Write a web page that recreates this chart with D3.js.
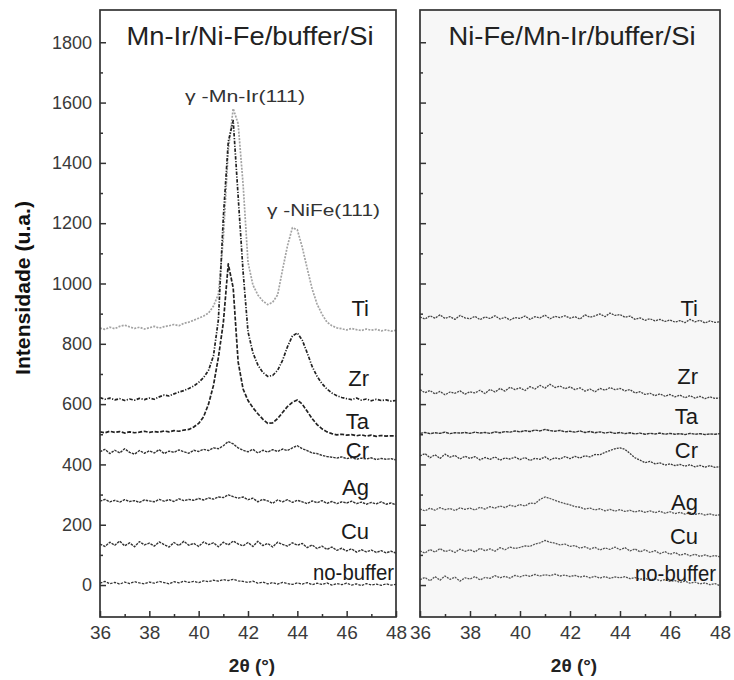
<!DOCTYPE html>
<html>
<head>
<meta charset="utf-8">
<script src="https://cdnjs.cloudflare.com/ajax/libs/d3/7.8.5/d3.min.js"></script>
<style>
    body { margin: 0; background: #fff; }
    svg { display: block; font-family: "Liberation Sans", Arial, sans-serif; }
</style>
</head>
<body>
<div id="chart"></div>
<script>
// 2theta sampling (deg)
var twoTheta = [
    36.0, 36.2, 36.4, 36.6, 36.8, 37.0, 37.2, 37.4, 37.6, 37.8,
    38.0, 38.2, 38.4, 38.6, 38.8, 39.0, 39.2, 39.4, 39.6, 39.8,
    40.0, 40.2, 40.4, 40.6, 40.8, 41.0, 41.2, 41.4, 41.6, 41.8,
    42.0, 42.2, 42.4, 42.6, 42.8, 43.0, 43.2, 43.4, 43.6, 43.8,
    44.0, 44.2, 44.4, 44.6, 44.8, 45.0, 45.2, 45.4, 45.6, 45.8,
    46.0, 46.2, 46.4, 46.6, 46.8, 47.0, 47.2, 47.4, 47.6, 47.8,
    48.0
];

var buffers = ["Ti", "Zr", "Ta", "Cr", "Ag", "Cu", "no-buffer"];
var panelTitles = ["Mn-Ir/Ni-Fe/buffer/Si", "Ni-Fe/Mn-Ir/buffer/Si"];
var xTicks = [36, 38, 40, 42, 44, 46, 48];
var xMinorTicks = [37, 39, 41, 43, 45, 47];
var yTicks = [0, 200, 400, 600, 800, 1000, 1200, 1400, 1600, 1800];
var yMinorTicks = [100, 300, 500, 700, 900, 1100, 1300, 1500, 1700];

// ---- Mn-Ir/Ni-Fe/buffer/Si ----
var mnirTi = [
    852, 848, 855, 850, 858, 862, 856, 851, 855, 849,
    853, 858, 852, 857, 860, 864, 860, 868, 872, 878,
    885, 892, 902, 925, 965, 1150, 1440, 1580, 1530, 1330,
    1070, 995, 962, 942, 930, 938, 962, 1045, 1125, 1185,
    1178, 1120, 1050, 982, 932, 898, 872, 860, 853, 850,
    846, 851, 847, 844, 849, 845, 848, 843, 846, 842,
    845
];
var mnirZr = [
    622, 616, 620, 614, 618, 612, 617, 613, 619, 615,
    620, 616, 624, 630, 627, 634, 640, 645, 652, 660,
    672, 688, 712, 760, 880, 1220, 1470, 1540, 1290, 1040,
    840, 770, 730, 705, 692, 695, 712, 745, 790, 826,
    836, 812, 770, 725, 692, 668, 650, 637, 628, 622,
    618, 615, 620, 613, 617, 611, 616, 612, 614, 610,
    612
];
var mnirTa = [
    508, 505, 510, 506, 509, 504, 508, 505, 507, 510,
    506, 509, 507, 511, 508, 512, 510, 514, 516, 524,
    536, 558, 600, 662, 755, 870, 1065, 985, 740, 650,
    612, 588, 568, 550, 536, 538, 552, 572, 592, 606,
    614, 600, 576, 552, 532, 518, 508, 502, 498, 500,
    497, 499, 495, 498, 494, 497, 493, 496, 494, 495,
    494
];
var mnirCr = [
    442, 450, 436, 447, 438, 452, 440, 434, 446, 437,
    445, 438, 449, 436, 444, 440, 448, 442, 437, 447,
    443, 450, 446, 455, 452, 462, 476, 468, 455, 447,
    442, 450, 438, 447, 441, 449, 443, 451, 446, 455,
    462, 452, 446, 438, 436, 430, 426, 424, 421, 425,
    419, 423, 417, 421, 418, 422, 416, 420, 417, 419,
    415
];
var mnirAg = [
    278, 284, 276, 281, 275, 283, 277, 280, 274, 282,
    279, 276, 284, 278, 283, 277, 286, 280, 284, 281,
    287, 282, 289, 285, 292, 290, 299, 293, 288, 292,
    283, 288, 276, 284, 279, 271, 282, 276, 283, 274,
    281, 276, 270, 279, 273, 280, 271, 277, 270, 276,
    272, 278, 270, 275, 268, 274, 269, 276, 268, 272,
    266
];
var mnirCu = [
    136, 128, 142, 132, 146, 130, 140, 127, 144, 133,
    139, 129, 143, 134, 126, 141, 131, 145, 132, 138,
    128, 143, 134, 140, 127, 142, 133, 146, 136, 130,
    141, 128, 145, 131, 138, 126, 142, 135, 129, 140,
    132, 138, 124, 133, 121, 129, 118, 126, 115, 122,
    113, 120, 109, 117, 110, 116, 108, 114, 107, 112,
    106
];
var mnirNoBuffer = [
    6, 12, 4, 9, 3, 10, 5, 11, 7, 4,
    10, 6, 12, 8, 4, 11, 7, 13, 9, 12,
    8, 14, 11, 16, 13, 18, 15, 19, 14, 12,
    9, 13, 6, 10, 4, 8, 3, 9, 5, 2,
    7, 3, 8, 1, 6, 2, 7, 0, 5, 1,
    6, 0, 4, -2, 5, 0, 3, -1, 4, 0,
    2
];

// ---- Ni-Fe/Mn-Ir/buffer/Si ----
var nifeTi = [
    889, 882, 893, 885, 896, 884, 890, 881, 894, 886,
    883, 891, 880, 889, 884, 893, 882, 888, 879, 887,
    884, 892, 881, 890, 886, 895, 883, 891, 887, 893,
    885, 890, 882, 896, 888, 893, 899, 890, 902, 894,
    897, 888, 892, 881, 886, 878, 883, 876, 881, 874,
    879, 872, 877, 870, 881, 873, 878, 869, 876, 871,
    873
];
var nifeZr = [
    648, 638, 645, 634, 642, 631, 640, 636, 644, 633,
    641, 637, 646, 635, 649, 640, 652, 643, 656, 648,
    654, 645, 658, 650, 662, 653, 666, 655, 660, 651,
    657, 648, 654, 643, 650, 641, 652, 646, 655, 648,
    652, 644, 648, 637, 641, 632, 636, 628, 634, 626,
    632, 624, 630, 621, 628, 620, 626, 618, 624, 619,
    621
];
var nifeTa = [
    503, 506, 502, 505, 503, 507, 502, 505, 504, 506,
    503, 507, 504, 506, 503, 508, 505, 509, 507, 511,
    508, 512, 509, 514, 511, 516, 512, 510, 513, 508,
    510, 507, 511, 506, 509, 505, 508, 504, 507, 503,
    506, 502, 505, 501, 504, 500, 503, 501, 504, 500,
    503, 500, 502, 499, 503, 500, 502, 499, 501, 500,
    502
];
var nifeCr = [
    428, 436, 422, 432, 420, 434, 424, 430, 418, 427,
    420, 426, 415, 423, 417, 425, 414, 421, 418, 424,
    416, 423, 413, 420, 417, 425, 415, 422, 418, 426,
    419, 427, 421, 429, 425, 433, 432, 440, 446, 452,
    455, 450, 436, 422, 414, 406, 410, 402, 405, 398,
    402, 396, 400, 394, 399, 392, 397, 391, 396, 390,
    393
];
var nifeAg = [
    252, 246, 255, 248, 257, 250, 254, 247, 256, 251,
    255, 249, 258, 252, 260, 255, 262, 257, 265, 260,
    267, 262, 272, 270, 284, 292, 287, 281, 275, 270,
    266, 260, 258, 252, 255, 249, 253, 246, 251, 245,
    250, 244, 248, 242, 247, 241, 246, 240, 245, 238,
    243, 237, 241, 235, 240, 234, 238, 232, 236, 231,
    233
];
var nifeCu = [
    113, 106, 118, 109, 121, 111, 116, 108, 119, 112,
    117, 110, 122, 114, 120, 112, 124, 117, 126, 121,
    125, 130, 128, 136, 140, 148, 142, 139, 133, 136,
    128, 131, 122, 127, 119, 125, 116, 123, 118, 126,
    117, 124, 113, 120, 110, 117, 108, 114, 104, 111,
    102, 108, 99, 104, 97, 102, 95, 100, 94, 98,
    93
];
var nifeNoBuffer = [
    18, 25, 14, 28, 16, 30, 19, 26, 13, 24,
    20, 28, 17, 25, 22, 31, 24, 29, 23, 32,
    27, 33, 29, 35, 30, 34, 31, 36, 30, 33,
    28, 32, 26, 30, 24, 29, 23, 28, 22, 27,
    24, 28, 21, 25, 19, 23, 16, 21, 14, 18,
    12, 15, 9, 13, 6, 10, 4, 7, 1, 5,
    -2
];


var width = 734,
    height = 680,
    plotTop = 10,
    plotBottom = 617;

var svg = d3.select("#chart").append("svg")
    .attr("width", width)
    .attr("height", height);

var y = d3.scaleLinear().domain([-106, 1907]).range([plotBottom, plotTop]);

// layout of each panel (pixels), label baselines per buffer
var panels = [
    {
        title: panelTitles[0],
        left: 100, right: 396, bg: "#ffffff",
        series: [mnirTi, mnirZr, mnirTa, mnirCr, mnirAg, mnirCu, mnirNoBuffer],
        labelY: [316, 386, 429, 458, 495, 539, 580],
        labelX: 369, noBufferX: 394,
        showLabels: true,
        styles: [
            { stroke: "#a3a3a3", dash: "2,1.3", w: 1.7 },
            { stroke: "#222", dash: "3.5,1.5,1.2,1.5", w: 1.7 },
            { stroke: "#222", dash: "4,1.6", w: 1.7 },
            { stroke: "#333", dash: "2.5,1", w: 1.4 },
            { stroke: "#333", dash: "2.5,1", w: 1.4 },
            { stroke: "#333", dash: "2.5,1", w: 1.4 },
            { stroke: "#333", dash: "2.5,1.2", w: 1.3 }
        ]
    },
    {
        title: panelTitles[1],
        left: 420, right: 720, bg: "#f7f7f7",
        series: [nifeTi, nifeZr, nifeTa, nifeCr, nifeAg, nifeCu, nifeNoBuffer],
        labelY: [316, 384, 424, 458, 510, 544, 581],
        labelX: 698, noBufferX: 716,
        showLabels: false,
        styles: [
            { stroke: "#444", dash: "2,1", w: 1.3 },
            { stroke: "#444", dash: "2,1", w: 1.3 },
            { stroke: "#333", dash: "3,0.8", w: 1.4 },
            { stroke: "#3a3a3a", dash: "2,1", w: 1.3 },
            { stroke: "#555", dash: "2,1", w: 1.3 },
            { stroke: "#555", dash: "2,1", w: 1.3 },
            { stroke: "#555", dash: "2,1", w: 1.3 }
        ]
    }
];

panels.forEach(function (p, pi) {
    drawPanel(p, pi);
});

// y axis label
svg.append("text")
    .attr("transform", "translate(30,288) rotate(-90)")
    .attr("text-anchor", "middle")
    .style("font-size", "20px")
    .style("font-weight", "bold")
    .attr("fill", "#111")
    .attr("textLength", 174)
    .attr("lengthAdjust", "spacingAndGlyphs")
    .text("Intensidade (u.a.)");

// peak annotations on left panel
svg.append("text")
    .attr("x", 185).attr("y", 102)
    .style("font-size", "17px")
    .attr("fill", "#333")
    .attr("textLength", 120)
    .attr("lengthAdjust", "spacingAndGlyphs")
    .text("\u03b3 -Mn-Ir(111)");

svg.append("text")
    .attr("x", 267).attr("y", 216)
    .style("font-size", "17px")
    .attr("fill", "#333")
    .attr("textLength", 113)
    .attr("lengthAdjust", "spacingAndGlyphs")
    .text("\u03b3 -NiFe(111)");


function drawPanel(p, pi) {

    var x = d3.scaleLinear().domain([36, 48]).range([p.left, p.right]);

    var g = svg.append("g");

    g.append("rect")
        .attr("x", p.left)
        .attr("y", plotTop)
        .attr("width", p.right - p.left)
        .attr("height", plotBottom - plotTop)
        .attr("fill", p.bg);

    g.append("clipPath")
        .attr("id", "clip" + pi)
        .append("rect")
        .attr("x", p.left)
        .attr("y", plotTop)
        .attr("width", p.right - p.left)
        .attr("height", plotBottom - plotTop);

    var line = d3.line()
        .x(function (d, i) { return x(twoTheta[i]); })
        .y(function (d) { return y(d); });

    var curves = g.append("g").attr("clip-path", "url(#clip" + pi + ")");

    p.series.forEach(function (s, i) {
        curves.append("path")
            .datum(s)
            .attr("fill", "none")
            .attr("stroke", p.styles[i].stroke)
            .attr("stroke-width", p.styles[i].w)
            .attr("stroke-dasharray", p.styles[i].dash)
            .attr("stroke-linejoin", "round")
            .attr("d", line);
    });

    // buffer labels
    buffers.forEach(function (b, i) {
        var t = g.append("text")
            .attr("x", b === "no-buffer" ? p.noBufferX : p.labelX)
            .attr("y", p.labelY[i])
            .attr("text-anchor", "end")
            .style("font-size", "22px")
            .attr("fill", "#1a1a1a")
            .text(b);
        if (b === "no-buffer") {
            t.attr("textLength", 81).attr("lengthAdjust", "spacingAndGlyphs");
        }
    });

    // title
    g.append("text")
        .attr("x", (p.left + p.right) / 2 + 2)
        .attr("y", 45)
        .attr("text-anchor", "middle")
        .style("font-size", "25px")
        .attr("fill", "#222")
        .attr("textLength", 247)
        .attr("lengthAdjust", "spacingAndGlyphs")
        .text(p.title);

    // y axis (inward ticks)
    var yAxis = d3.axisLeft(y)
        .tickValues(yTicks)
        .tickSize(-6)
        .tickPadding(8)
        .tickFormat(p.showLabels ? d3.format("d") : "");

    var ya = g.append("g")
        .attr("transform", "translate(" + p.left + ",0)")
        .call(yAxis);

    var yaMinor = g.append("g")
        .attr("transform", "translate(" + p.left + ",0)")
        .call(d3.axisLeft(y).tickValues(yMinorTicks).tickSize(-3).tickFormat(""));

    // x axis (inward ticks)
    var xa = g.append("g")
        .attr("transform", "translate(0," + plotBottom + ")")
        .call(d3.axisBottom(x).tickValues(xTicks).tickSize(-6).tickPadding(9));

    var xaMinor = g.append("g")
        .attr("transform", "translate(0," + plotBottom + ")")
        .call(d3.axisBottom(x).tickValues(xMinorTicks).tickSize(-3).tickFormat(""));

    [ya, yaMinor, xa, xaMinor].forEach(function (a) {
        a.select(".domain").remove();
        a.selectAll("line").attr("stroke", "#333").attr("stroke-width", 1.5);
        a.selectAll("text")
            .attr("fill", "#3a3a3a")
            .style("font-family", "'Liberation Sans', Arial, sans-serif");
    });
    ya.selectAll("text").style("font-size", "18px");
    xa.selectAll("text").style("font-size", "19px");

    // frame
    g.append("rect")
        .attr("x", p.left)
        .attr("y", plotTop)
        .attr("width", p.right - p.left)
        .attr("height", plotBottom - plotTop)
        .attr("fill", "none")
        .attr("stroke", "#333")
        .attr("stroke-width", 1.7);

    // x axis label
    g.append("text")
        .attr("x", (p.left + p.right) / 2 + 4)
        .attr("y", 672)
        .attr("text-anchor", "middle")
        .style("font-size", "19px")
        .style("font-weight", "bold")
        .attr("fill", "#222")
        .text("2\u03b8 (\u00b0)");
}
</script>
</body>
</html>
